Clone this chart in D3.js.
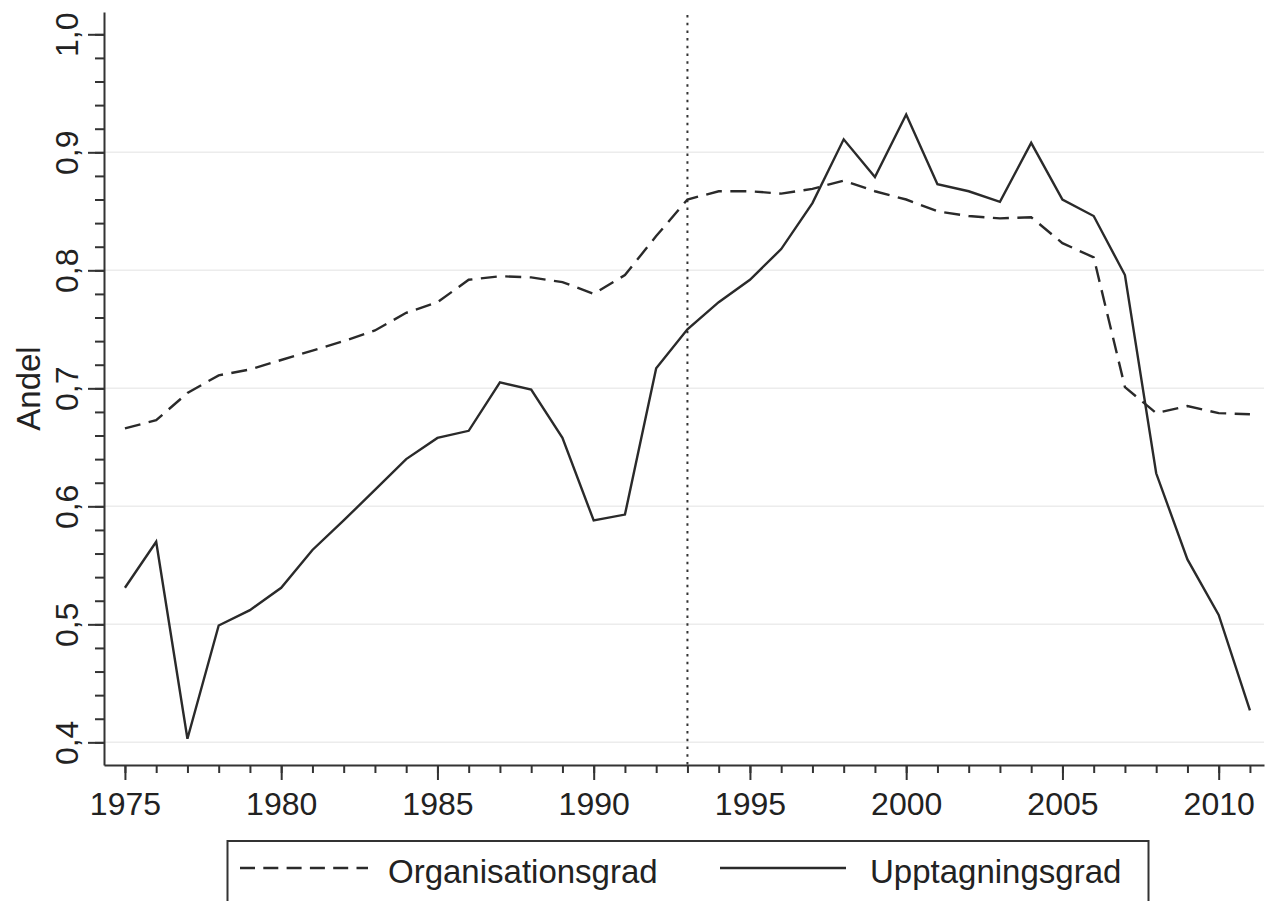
<!DOCTYPE html>
<html>
<head>
<meta charset="utf-8">
<script src="https://cdn.jsdelivr.net/npm/d3@7"></script>
<style>
  html, body { margin: 0; padding: 0; background: #fff; }
  svg { display: block; }
  text { font-family: "Liberation Sans", Arial, sans-serif; fill: #222; }
</style>
</head>
<body>
<svg id="chart" width="1266" height="901"></svg>
<script>
const years = [1975,1976,1977,1978,1979,1980,1981,1982,1983,1984,1985,1986,1987,1988,1989,1990,1991,1992,1993,1994,1995,1996,1997,1998,1999,2000,2001,2002,2003,2004,2005,2006,2007,2008,2009,2010,2011];
const organisationsgrad = [0.666,0.673,0.696,0.711,0.716,0.724,0.732,0.740,0.749,0.764,0.773,0.792,0.795,0.794,0.790,0.780,0.796,0.829,0.860,0.867,0.867,0.865,0.869,0.876,0.867,0.860,0.850,0.846,0.844,0.845,0.823,0.811,0.701,0.679,0.685,0.679,0.678];
const upptagningsgrad = [0.531,0.570,0.403,0.499,0.512,0.531,0.563,0.588,0.614,0.640,0.658,0.664,0.705,0.699,0.658,0.588,0.593,0.717,0.750,0.773,0.792,0.818,0.857,0.911,0.879,0.932,0.873,0.867,0.858,0.908,0.860,0.846,0.796,0.628,0.555,0.508,0.427];
const xTickLabels = [1975,1980,1985,1990,1995,2000,2005,2010];
const yTickLabels = [0.4,0.5,0.6,0.7,0.8,0.9,1.0];
const seriesNames = ["Organisationsgrad","Upptagningsgrad"];
const markerYear = 1993;
const yAxisTitle = "Andel";

const svg = d3.select("#chart");
const ink = "#333";

const x = d3.scaleLinear().domain([1974.33, 2011.45]).range([104, 1264]);
const y = d3.scaleLinear().domain([0.3808, 1.0189]).range([765, 12]);

const fmt = v => d3.format(".1f")(v).replace(".", ",");

// gridlines
svg.append("g").selectAll("line").data(yTickLabels.filter(v => v < 1.0)).join("line")
  .attr("x1", x.range()[0]).attr("x2", x.range()[1])
  .attr("y1", d => y(d)).attr("y2", d => y(d))
  .attr("stroke", "#ececec").attr("stroke-width", 1.5);

// y axis minor ticks
const yMinor = d3.range(0.4, 1.0001, 0.02).map(v => +v.toFixed(2));
const yMinorAxis = d3.axisLeft(y).tickValues(yMinor).tickSize(9).tickFormat("").tickSizeOuter(0);
const gYm = svg.append("g").attr("transform", `translate(${x.range()[0]},0)`).call(yMinorAxis);
gYm.select(".domain").attr("stroke", ink).attr("stroke-width", 2);
gYm.selectAll(".tick line").attr("stroke", ink).attr("stroke-width", 2);

// y axis major
const yAxis = d3.axisLeft(y).tickValues(yTickLabels).tickSize(16).tickPadding(0).tickFormat(fmt).tickSizeOuter(0);
const gY = svg.append("g").attr("transform", `translate(${x.range()[0]},0)`).call(yAxis);
gY.select(".domain").remove();
gY.selectAll(".tick line").attr("stroke", ink).attr("stroke-width", 2);
gY.selectAll(".tick text")
  .attr("font-size", 32).attr("font-family", "Liberation Sans, Arial, sans-serif")
  .attr("fill", "#222")
  .attr("text-anchor", "middle")
  .attr("dy", null).attr("x", null)
  .attr("transform", "translate(-26,0) rotate(-90)");

// x axis minor
const xMinor = d3.range(1975, 2012);
const xMinorAxis = d3.axisBottom(x).tickValues(xMinor).tickSize(8).tickFormat("").tickSizeOuter(0);
const gXm = svg.append("g").attr("transform", `translate(0,${y.range()[0]})`).call(xMinorAxis);
gXm.select(".domain").attr("stroke", ink).attr("stroke-width", 2);
gXm.selectAll(".tick line").attr("stroke", ink).attr("stroke-width", 2);

// x axis major
const xAxis = d3.axisBottom(x).tickValues(xTickLabels).tickSize(15).tickPadding(12).tickFormat(d3.format("d")).tickSizeOuter(0);
const gX = svg.append("g").attr("transform", `translate(0,${y.range()[0]})`).call(xAxis);
gX.select(".domain").remove();
gX.selectAll(".tick line").attr("stroke", ink).attr("stroke-width", 2);
gX.selectAll(".tick text")
  .attr("font-size", 32).attr("font-family", "Liberation Sans, Arial, sans-serif")
  .attr("fill", "#222").attr("dy", "0.71em");

// y title
svg.append("text")
  .attr("transform", `translate(40,${(y.range()[0] + y.range()[1]) / 2}) rotate(-90)`)
  .attr("text-anchor", "middle")
  .attr("font-size", 33)
  .text(yAxisTitle);

// vertical dotted line
svg.append("line")
  .attr("x1", x(markerYear)).attr("x2", x(markerYear))
  .attr("y1", 15).attr("y2", y.range()[0])
  .attr("stroke", "#333").attr("stroke-width", 2).attr("stroke-dasharray", "2.5,5.2");

// series lines
const line = d3.line().x((d, i) => x(years[i])).y(d => y(d));
svg.append("path").datum(organisationsgrad)
  .attr("d", line).attr("fill", "none")
  .attr("stroke", "#2a2a2a").attr("stroke-width", 2.4)
  .attr("stroke-dasharray", "16,8.5");
svg.append("path").datum(upptagningsgrad)
  .attr("d", line).attr("fill", "none")
  .attr("stroke", "#2a2a2a").attr("stroke-width", 2.4)
  .attr("stroke-linejoin", "miter");

// legend
const lg = svg.append("g");
lg.append("rect")
  .attr("x", 227.5).attr("y", 841).attr("width", 921).attr("height", 80)
  .attr("fill", "none").attr("stroke", ink).attr("stroke-width", 2);
lg.append("line").attr("x1", 240).attr("x2", 368).attr("y1", 868).attr("y2", 868)
  .attr("stroke", "#2a2a2a").attr("stroke-width", 2.4).attr("stroke-dasharray", "15,8.3");
lg.append("text").attr("x", 388).attr("y", 883).attr("font-size", 33).text(seriesNames[0]);
lg.append("line").attr("x1", 720).attr("x2", 846).attr("y1", 868).attr("y2", 868)
  .attr("stroke", "#2a2a2a").attr("stroke-width", 2.4);
lg.append("text").attr("x", 870).attr("y", 883).attr("font-size", 33).text(seriesNames[1]);
</script>
</body>
</html>
